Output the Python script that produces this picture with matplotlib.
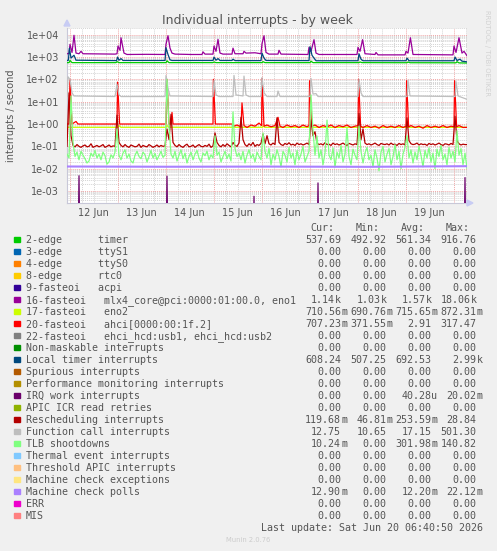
import numpy as np
import matplotlib
matplotlib.use("Agg")
import matplotlib.pyplot as plt
import matplotlib.dates as mdates
from matplotlib.ticker import LogLocator, FuncFormatter, NullFormatter, FixedLocator
from matplotlib.patches import Polygon, Rectangle
from datetime import datetime, timedelta

W, H = 497, 551
start = datetime(2026, 6, 11, 22, 40)   # left edge of the graph
span_hours = 200                         # 400 px, 30 min / px

# ---- legend table ----
labels = [
    "2-edge      timer", "3-edge      ttyS1", "4-edge      ttyS0", "8-edge      rtc0",
    "9-fasteoi   acpi", "16-fasteoi   mlx4_core@pci:0000:01:00.0, eno1",
    "17-fasteoi   eno2", "20-fasteoi   ahci[0000:00:1f.2]",
    "22-fasteoi   ehci_hcd:usb1, ehci_hcd:usb2", "Non-maskable interrupts",
    "Local timer interrupts", "Spurious interrupts", "Performance monitoring interrupts",
    "IRQ work interrupts", "APIC ICR read retries", "Rescheduling interrupts",
    "Function call interrupts", "TLB shootdowns", "Thermal event interrupts",
    "Threshold APIC interrupts", "Machine check exceptions", "Machine check polls",
    "ERR", "MIS",
]
colors = [
    "#00CC00", "#0066B3", "#FF8000", "#FFCC00", "#330099", "#990099", "#CCFF00",
    "#FF0000", "#808080", "#008F00", "#00487D", "#B35A00", "#B38F00", "#6B006B",
    "#8FB300", "#B30000", "#BEBEBE", "#80FF80", "#80C9FF", "#FFC080", "#FFE680",
    "#AA80FF", "#EE00CC", "#FF8080",
]
z = "0.00"
cur = ["537.69", z, z, z, z, "1.14k", "710.56m", "707.23m", z, z, "608.24", z, z,
       z, z, "119.68m", "12.75", "10.24m", z, z, z, "12.90m", z, z]
mins = ["492.92", z, z, z, z, "1.03k", "690.76m", "371.55m", z, z, "507.25", z, z,
        z, z, "46.81m", "10.65", z, z, z, z, z, z, z]
avgs = ["561.34", z, z, z, z, "1.57k", "715.65m", "2.91", z, z, "692.53", z, z,
        "40.28u", z, "253.59m", "17.15", "301.98m", z, z, z, "12.20m", z, z]
maxs = ["916.76", z, z, z, z, "18.06k", "872.31m", "317.47", z, z, "2.99k", z, z,
        "20.02m", z, "28.84", "501.30", "140.82", z, z, z, "22.12m", z, z]

# ---- series (hour from left edge, value) ----
timer = [(0, 560), (1, 560), (1.5, 700), (2.5, 560), (24.5, 560), (25, 620), (26, 560),
         (49.5, 560), (50, 680), (51, 560), (73, 560), (73.5, 600), (74.5, 560), (97.5, 560),
         (98, 620), (99, 560), (121.5, 560), (122, 650), (123, 560), (146, 560), (146.5, 600),
         (147.5, 560), (170, 555), (170.5, 600), (171.5, 555), (194.5, 550), (195, 620),
         (196, 545), (200, 538)]

irq16 = [(0, 1400), (1, 1450), (1.5, 3700), (2.5, 1600), (3.5, 9400), (4.5, 1500), (6, 1400),
         (7, 1800), (8, 1400), (15, 1380), (24, 1350), (25, 1400), (25.5, 3100), (26.5, 2000),
         (27, 7300), (28.5, 1500), (30, 1300), (40, 1320), (49, 1300), (49.5, 3800),
         (50.5, 9000), (51.5, 2500), (52.5, 1500), (54, 1350), (62, 1300), (67.5, 1300),
         (68, 1700), (69, 1350), (73, 1350), (73.5, 3100), (74.5, 1800), (75.5, 6200),
         (76.5, 1500), (78, 1350), (82.5, 1350), (83, 2500), (84, 1400), (88, 1400),
         (88.5, 1800), (89.5, 1500), (94, 1550), (97, 1400), (97.5, 4000), (98.5, 9000),
         (99.5, 1600), (101, 1350), (105.5, 1350), (106, 2000), (107, 1350), (120.5, 1300),
         (121, 2700), (122, 1800), (123.5, 6000), (124.5, 1500), (126, 1300), (145, 1300),
         (145.5, 2700), (146.5, 1800), (147.8, 6000), (149, 1400), (154, 1300), (154.5, 1600),
         (155.5, 1250), (169, 1250), (169.5, 1800), (170.5, 1500), (171.7, 7300), (173, 1300),
         (193, 1250), (193.5, 3100), (194.5, 1600), (196, 7300), (197.5, 1500), (198.5, 1800),
         (200, 1140)]

eno2 = [(0, 0.71), (25.5, 0.71), (26, 0.85), (27, 0.71), (49.5, 0.71), (50, 0.85), (51, 0.71),
        (97.5, 0.71), (98, 0.8), (99, 0.71), (121.5, 0.71), (122, 0.8), (123, 0.71), (200, 0.71)]

ahci = [(0, 1.0), (1, 1.0), (1.5, 95), (2.5, 1.0), (4.5, 1.3), (5.5, 1.0), (25, 1.0),
        (25.3, 75), (26.3, 1.0), (49.5, 1.0), (50, 100), (51, 1.0), (52, 1.0), (52.5, 3.3),
        (53, 1.0), (73, 1.0), (73.2, 100), (74.2, 1.0), (83, 1.0), (83.5, 0.8), (85, 0.9),
        (87, 0.75), (87.5, 8.8), (88.5, 0.85), (90, 0.7), (92, 0.9), (94, 0.8), (96, 1.1),
        (97.3, 0.85), (97.5, 110), (98.5, 0.8), (100, 0.9), (102, 0.75), (104, 0.85),
        (105.5, 2.0), (106.5, 0.8), (108, 0.7), (110, 0.9), (112, 0.75), (114, 0.85), (116, 0.7),
        (118, 0.9), (120, 0.75), (121, 0.85), (121.3, 87), (122.3, 0.8), (124, 0.9), (126, 0.7),
        (128, 0.85), (130, 0.75), (132, 0.9), (134, 0.7), (136, 0.85), (138, 0.75), (140, 0.9),
        (142, 0.7), (144, 0.8), (145.5, 0.85), (145.8, 100), (146.8, 0.8), (148, 0.7),
        (150, 0.85), (152, 0.7), (154, 0.8), (156, 0.65), (158, 0.85), (160, 0.7), (162, 0.8),
        (164, 0.7), (166, 0.85), (168, 0.7), (169.5, 0.8), (169.8, 87), (170.8, 0.75),
        (172, 0.85), (174, 0.7), (176, 0.8), (178, 0.65), (180, 0.85), (182, 0.7), (184, 0.8),
        (186, 0.7), (188, 0.85), (190, 0.7), (192, 0.8), (193.5, 0.75), (193.8, 87),
        (194.8, 0.75), (196, 0.85), (198, 0.7), (200, 0.707)]

local_timer = [(0, 700), (0.7, 720), (1.2, 2500), (2, 900), (3.5, 1200), (4.5, 720),
               (24.8, 690), (25.3, 1000), (26, 720), (27, 850), (28, 700), (49, 700),
               (49.5, 2600), (50.5, 1300), (51.5, 750), (52.5, 700), (73, 700), (73.5, 1000),
               (74.5, 720), (75.5, 850), (76.5, 700), (82.5, 700), (83, 800), (84, 690),
               (97, 690), (97.5, 1500), (98.5, 900), (99.5, 700), (121, 690), (121.5, 2900),
               (122.5, 1200), (123.5, 900), (124.5, 680), (145.5, 680), (146, 1400), (147, 800),
               (148, 680), (169.5, 680), (170, 900), (171, 680), (193.5, 680), (194, 1000),
               (195, 700), (196.5, 800), (197.5, 650), (200, 608)]

irq_work = [(0, 0), (5.5, 0), (6, 4.8e-3), (6.5, 0), (49.5, 0), (50, 4.6e-3), (50.5, 0),
            (93, 0), (93.5, 5.8e-4), (94, 0), (125, 0), (125.5, 2.3e-3), (126, 0),
            (198.5, 0), (199, 4e-3), (199.5, 0), (200, 0)]

func_call = [(0, 17), (0.5, 130), (1.5, 100), (2.5, 25), (3.5, 18), (24, 17), (25, 60), (26, 20),
             (27, 17), (49, 17), (49.5, 150), (50.5, 40), (51.5, 18), (73, 17), (73.5, 90),
             (74.5, 20), (76, 17), (83, 17), (83.5, 150), (84.5, 20), (88, 18), (88.5, 140),
             (89.5, 20), (91, 17), (97, 17), (97.5, 120), (98.5, 25), (100, 17), (105, 17),
             (105.5, 30), (106.5, 17), (121.5, 17), (122, 110), (123, 22), (124.5, 23),
             (125.5, 17), (145.5, 17), (146, 100), (147, 25), (148, 17), (170, 17), (170.5, 90),
             (171.5, 18), (194, 17), (194.5, 80), (195.5, 18), (200, 12.75)]

mc_polls = [(0, 0.0125), (50, 0.0122), (100, 0.0124), (150, 0.0121), (200, 0.0129)]

# hourly samples, milli-interrupts / s
resched_m = [
    100, 25000, 300, 110, 95, 120, 100, 90, 105, 115, 95, 100, 130, 90, 100, 110, 95, 105, 120, 90, 100, 115, 95, 105, 100,
    2500, 150, 110, 95, 120, 100, 90, 115, 105, 95, 100, 125, 90, 110, 100, 95, 120, 105, 90, 100, 115, 95, 110, 100, 105,
    600, 200, 2700, 150, 110, 95, 120, 100, 90, 110, 125, 95, 100, 115, 90, 105, 120, 100, 95, 110, 100, 125, 90, 105, 400,
    150, 110, 95, 120, 100, 130, 110, 95, 150, 110, 100, 140, 2000, 200, 120, 100, 130, 110, 150, 100, 120, 110, 135, 350, 130,
    300, 130, 115, 140, 120, 1900, 150, 120, 110, 135, 120, 145, 115, 125, 110, 140, 120, 130, 115, 125, 140, 120, 1500, 300, 450,
    140, 120, 130, 115, 145, 120, 125, 110, 140, 120, 130, 115, 125, 140, 120, 110, 135, 125, 115, 130, 120, 3000, 200, 600, 140,
    120, 130, 115, 125, 140, 120, 110, 135, 125, 120, 130, 115, 140, 120, 125, 110, 135, 120, 130, 115, 1900, 180, 130, 120, 125,
    140, 115, 130, 120, 125, 110, 135, 120, 130, 115, 125, 140, 120, 110, 130, 125, 115, 135, 120, 2200, 180, 130, 115, 125, 120,
    119.68,
]
tlb_m = [
    45, 30, 18000, 150, 35, 55, 25, 60, 40, 28, 18, 22, 50, 35, 65, 30, 45, 25, 55, 38, 16, 20, 42, 30, 55,
    600, 40, 25, 50, 70, 30, 45, 22, 18, 40, 60, 35, 28, 55, 42, 20, 35, 65, 30, 48, 25, 38, 60, 32, 40,
    100000, 800, 45, 30, 60, 22, 40, 70, 28, 50, 18, 35, 55, 25, 45, 65, 30, 20, 50, 38, 60, 25, 42, 30, 300,
    40, 55, 20, 35, 60, 28, 45, 22, 3500, 80, 35, 50, 25, 60, 18, 40, 70, 30, 45, 20, 55, 35, 25, 400, 60,
    30, 80, 15, 45, 25, 70, 35, 12, 60, 40, 20, 90, 30, 50, 15, 65, 25, 45, 100, 20, 35, 60, 20000, 500, 40,
    290, 30, 70, 15, 50, 1500, 40, 25, 85, 12, 55, 30, 110, 20, 45, 650, 35, 15, 75, 40, 25, 800, 60, 18, 50,
    90, 25, 40, 12, 70, 30, 8, 55, 100, 20, 45, 80, 15, 35, 120, 25, 60, 10, 45, 90, 300, 30, 70, 18, 55,
    25, 100, 40, 12, 65, 30, 85, 20, 50, 10, 75, 35, 110, 25, 45, 15, 90, 30, 60, 20, 500, 40, 80, 15, 50,
    10.24,
]

TXT = "#555555"


def to_dates(hours):
    return [start + timedelta(hours=float(h)) for h in hours]


def fx(px):
    return px / W


def fy(py):
    return 1 - py / H


fig = plt.figure(figsize=(W / 100, H / 100), dpi=100, facecolor="#f0f0f0")
ax = fig.add_axes([fx(67), fy(203), 400 / W, 175.5 / H])
ax.set_facecolor("white")
ax.set_yscale("log")
ax.set_ylim(2.9e-4, 2.1e4)
ax.set_xlim(start, start + timedelta(hours=span_hours))

# grid
grid_ls = (0, (1, 1))
t = datetime(2026, 6, 12, 0, 0)
while t < start + timedelta(hours=span_hours):
    if t.hour == 0:
        ax.axvline(t, color="#f0a8a8", lw=0.7, ls=grid_ls, zorder=1)
    else:
        ax.axvline(t, color="#d4d4d4", lw=0.7, ls=grid_ls, zorder=0.5)
    t += timedelta(hours=6)
ax.yaxis.set_major_locator(FixedLocator([10.0 ** k for k in range(-3, 5)]))
ax.yaxis.set_minor_locator(LogLocator(base=10, subs=np.arange(2, 10), numticks=60))
ax.yaxis.set_minor_formatter(NullFormatter())
ax.yaxis.set_major_formatter(FuncFormatter(lambda v, p: "%.0e" % v))
ax.grid(which="minor", axis="y", color="#d4d4d4", lw=0.7, ls=grid_ls, zorder=0.5)
ax.grid(which="major", axis="y", color="#f0a8a8", lw=0.7, ls=grid_ls, zorder=1)
ax.set_axisbelow(True)

noon = [datetime(2026, 6, d, 12) for d in range(12, 20)]
ax.xaxis.set_major_locator(FixedLocator(mdates.date2num(noon)))
ax.xaxis.set_major_formatter(mdates.DateFormatter("%d Jun"))
ax.tick_params(axis="both", which="both", length=0, colors=TXT, labelsize=7)
ax.tick_params(axis="y", pad=5.8)
ax.tick_params(axis="x", pad=3.5)
for s in ["top", "right"]:
    ax.spines[s].set_visible(False)
for s in ["left", "bottom"]:
    ax.spines[s].set_color("#c8c8d8")
    ax.spines[s].set_linewidth(0.8)


# series, in legend order
def draw(pairs, color, lw=0.9):
    h = [p[0] for p in pairs]
    v = np.maximum([p[1] for p in pairs], 1e-6)
    ax.plot(to_dates(h), v, color=color, lw=lw, zorder=3)


draw(timer, colors[0])
draw(irq16, colors[5])
draw(eno2, colors[6])
draw(ahci, colors[7])
draw(local_timer, colors[10])
draw(irq_work, colors[13])
draw(list(zip(range(len(resched_m)), np.array(resched_m) / 1000.0)), colors[15])
draw(func_call, colors[16])
draw(list(zip(range(len(tlb_m)), np.array(tlb_m) / 1000.0)), colors[17])
draw(mc_polls, colors[21], lw=1.5)

ax.set_ylabel("interrupts / second", color=TXT, fontsize=7)
ax.yaxis.set_label_coords((16 - 67) / 400, 0.5)

# axis arrows
fig.patches.append(Polygon([[fx(64), fy(26)], [fx(70), fy(26)], [fx(67), fy(20)]],
                           closed=True, transform=fig.transFigure, color="#c8ccf4"))
fig.patches.append(Polygon([[fx(467), fy(200)], [fx(467), fy(206)], [fx(473), fy(203)]],
                           closed=True, transform=fig.transFigure, color="#c8ccf4"))

# title and side texts
fig.text(fx(257), fy(24), "Individual interrupts - by week", ha="center", va="baseline",
         color=TXT, fontsize=9)
fig.text(fx(487.5), fy(53), "RRDTOOL / TOBI OETIKER", rotation=270, ha="center", va="center",
         color="#d2d2d2", fontsize=4.9)
fig.text(fx(248), fy(540.3), "Munin 2.0.76", ha="center", va="center", color="#cccccc",
         fontsize=4.9)

# legend
mono = "DejaVu Sans Mono"
fs = 7.2
col_end = [341, 386.5, 431.5, 476.5]
for x, name in zip(col_end, ["Cur:", "Min:", "Avg:", "Max:"]):
    fig.text(fx(x - 6.5), fy(227.7 + 3.6), name, ha="right", va="baseline",
             family=mono, fontsize=fs, color=TXT)
for i, name in enumerate(labels):
    yc = 239.3 + 12.0 * i
    fig.patches.append(Rectangle((fx(14), fy(yc + 2.8)), 5.5 / W, 5.5 / H,
                                 transform=fig.transFigure, color=colors[i]))
    fig.text(fx(26), fy(yc + 3.6), name, ha="left", va="baseline", family=mono,
             fontsize=fs, color=TXT)
    shift = -6 if i == 5 else 0
    for x, val in zip(col_end, [cur[i], mins[i], avgs[i], maxs[i]]):
        num, suf = (val[:-1], val[-1]) if val[-1].isalpha() else (val, "")
        fig.text(fx(x + shift), fy(yc + 3.6), num, ha="right", va="baseline",
                 family=mono, fontsize=fs, color=TXT)
        if suf:
            fig.text(fx(x + shift), fy(yc + 3.6), suf, ha="left", va="baseline",
                     family=mono, fontsize=fs, color=TXT)

fig.text(fx(483), fy(527 + 3.6), "Last update: Sat Jun 20 06:40:50 2026", ha="right",
         va="baseline", family=mono, fontsize=fs, color=TXT)

fig.savefig("out.png", dpi=100, facecolor=fig.get_facecolor())
